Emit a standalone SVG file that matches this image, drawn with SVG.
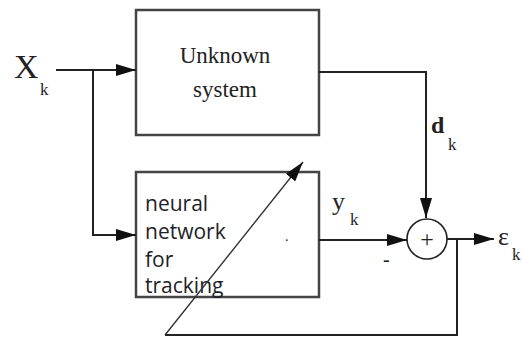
<svg xmlns="http://www.w3.org/2000/svg" width="522" height="340" viewBox="0 0 522 340">
<style>
.box{fill:#fff;stroke:#444;stroke-width:2.5}
.ln{fill:none;stroke:#222;stroke-width:2}
.thin{fill:none;stroke:#333;stroke-width:1.4}
.ser{font-family:"Liberation Serif","Times New Roman",serif;fill:#222}
.nn{font-family:"Open Sans","Noto Sans",sans-serif;font-size:21px;fill:#1e1e28}
.sub{font-family:"Liberation Serif","Times New Roman",serif;font-size:17px;fill:#222}
</style>
<defs>
<marker id="arr" viewBox="0 0 20 12" refX="20" refY="6" markerWidth="20" markerHeight="12" markerUnits="userSpaceOnUse" orient="auto">
<path d="M0,0 L20,6 L0,12 z" fill="#111"/>
</marker>
</defs>
<rect width="522" height="340" fill="#fff"/>
<g id="unknown-system">
<rect class="box" x="136" y="10" width="183" height="125"/>
<text class="ser" x="225" y="63" font-size="23" text-anchor="middle">Unknown</text>
<text class="ser" x="225" y="97" font-size="23" text-anchor="middle">system</text>
</g>
<g id="neural-network">
<rect class="box" x="136" y="172" width="183" height="125"/>
<text class="nn" x="145" y="211">neural</text>
<text class="nn" x="145" y="239">network</text>
<text class="nn" x="145" y="267">for</text>
<text class="nn" x="145" y="293">tracking</text>
<text class="ser" x="285" y="241" font-size="14">.</text>
</g>
<g id="sum">
<circle cx="427" cy="239" r="20" fill="#fff" stroke="#222" stroke-width="1.6"/>
<text class="ser" x="427" y="247" font-size="24" text-anchor="middle">+</text>
</g>
<g id="labels">
<text class="ser" x="14" y="78" font-size="34">X</text>
<text class="sub" x="40" y="95">k</text>
<text class="ser" x="431" y="133" font-size="24" font-weight="bold">d</text>
<text class="sub" x="448" y="150">k</text>
<text class="ser" x="332" y="210" font-size="26">y</text>
<text class="sub" x="350" y="225">k</text>
<text class="ser" x="383" y="266" font-size="20">-</text>
<text class="ser" x="498" y="245" font-size="26">ε</text>
<text class="sub" x="512" y="260">k</text>
</g>
<g id="connectors">
<path class="ln" d="M56,70 H136" marker-end="url(#arr)"/>
<path class="ln" d="M93,70 V235 H136" marker-end="url(#arr)"/>
<path class="ln" d="M319,72 H426 V218" marker-end="url(#arr)"/>
<path class="ln" d="M319,240 H407" marker-end="url(#arr)"/>
<path class="ln" d="M447,239 H494" marker-end="url(#arr)"/>
<path class="ln" d="M457,239 V335 H165"/>
<path class="thin" d="M165,335 L303,162" marker-end="url(#arr)"/>
</g>
</svg>
